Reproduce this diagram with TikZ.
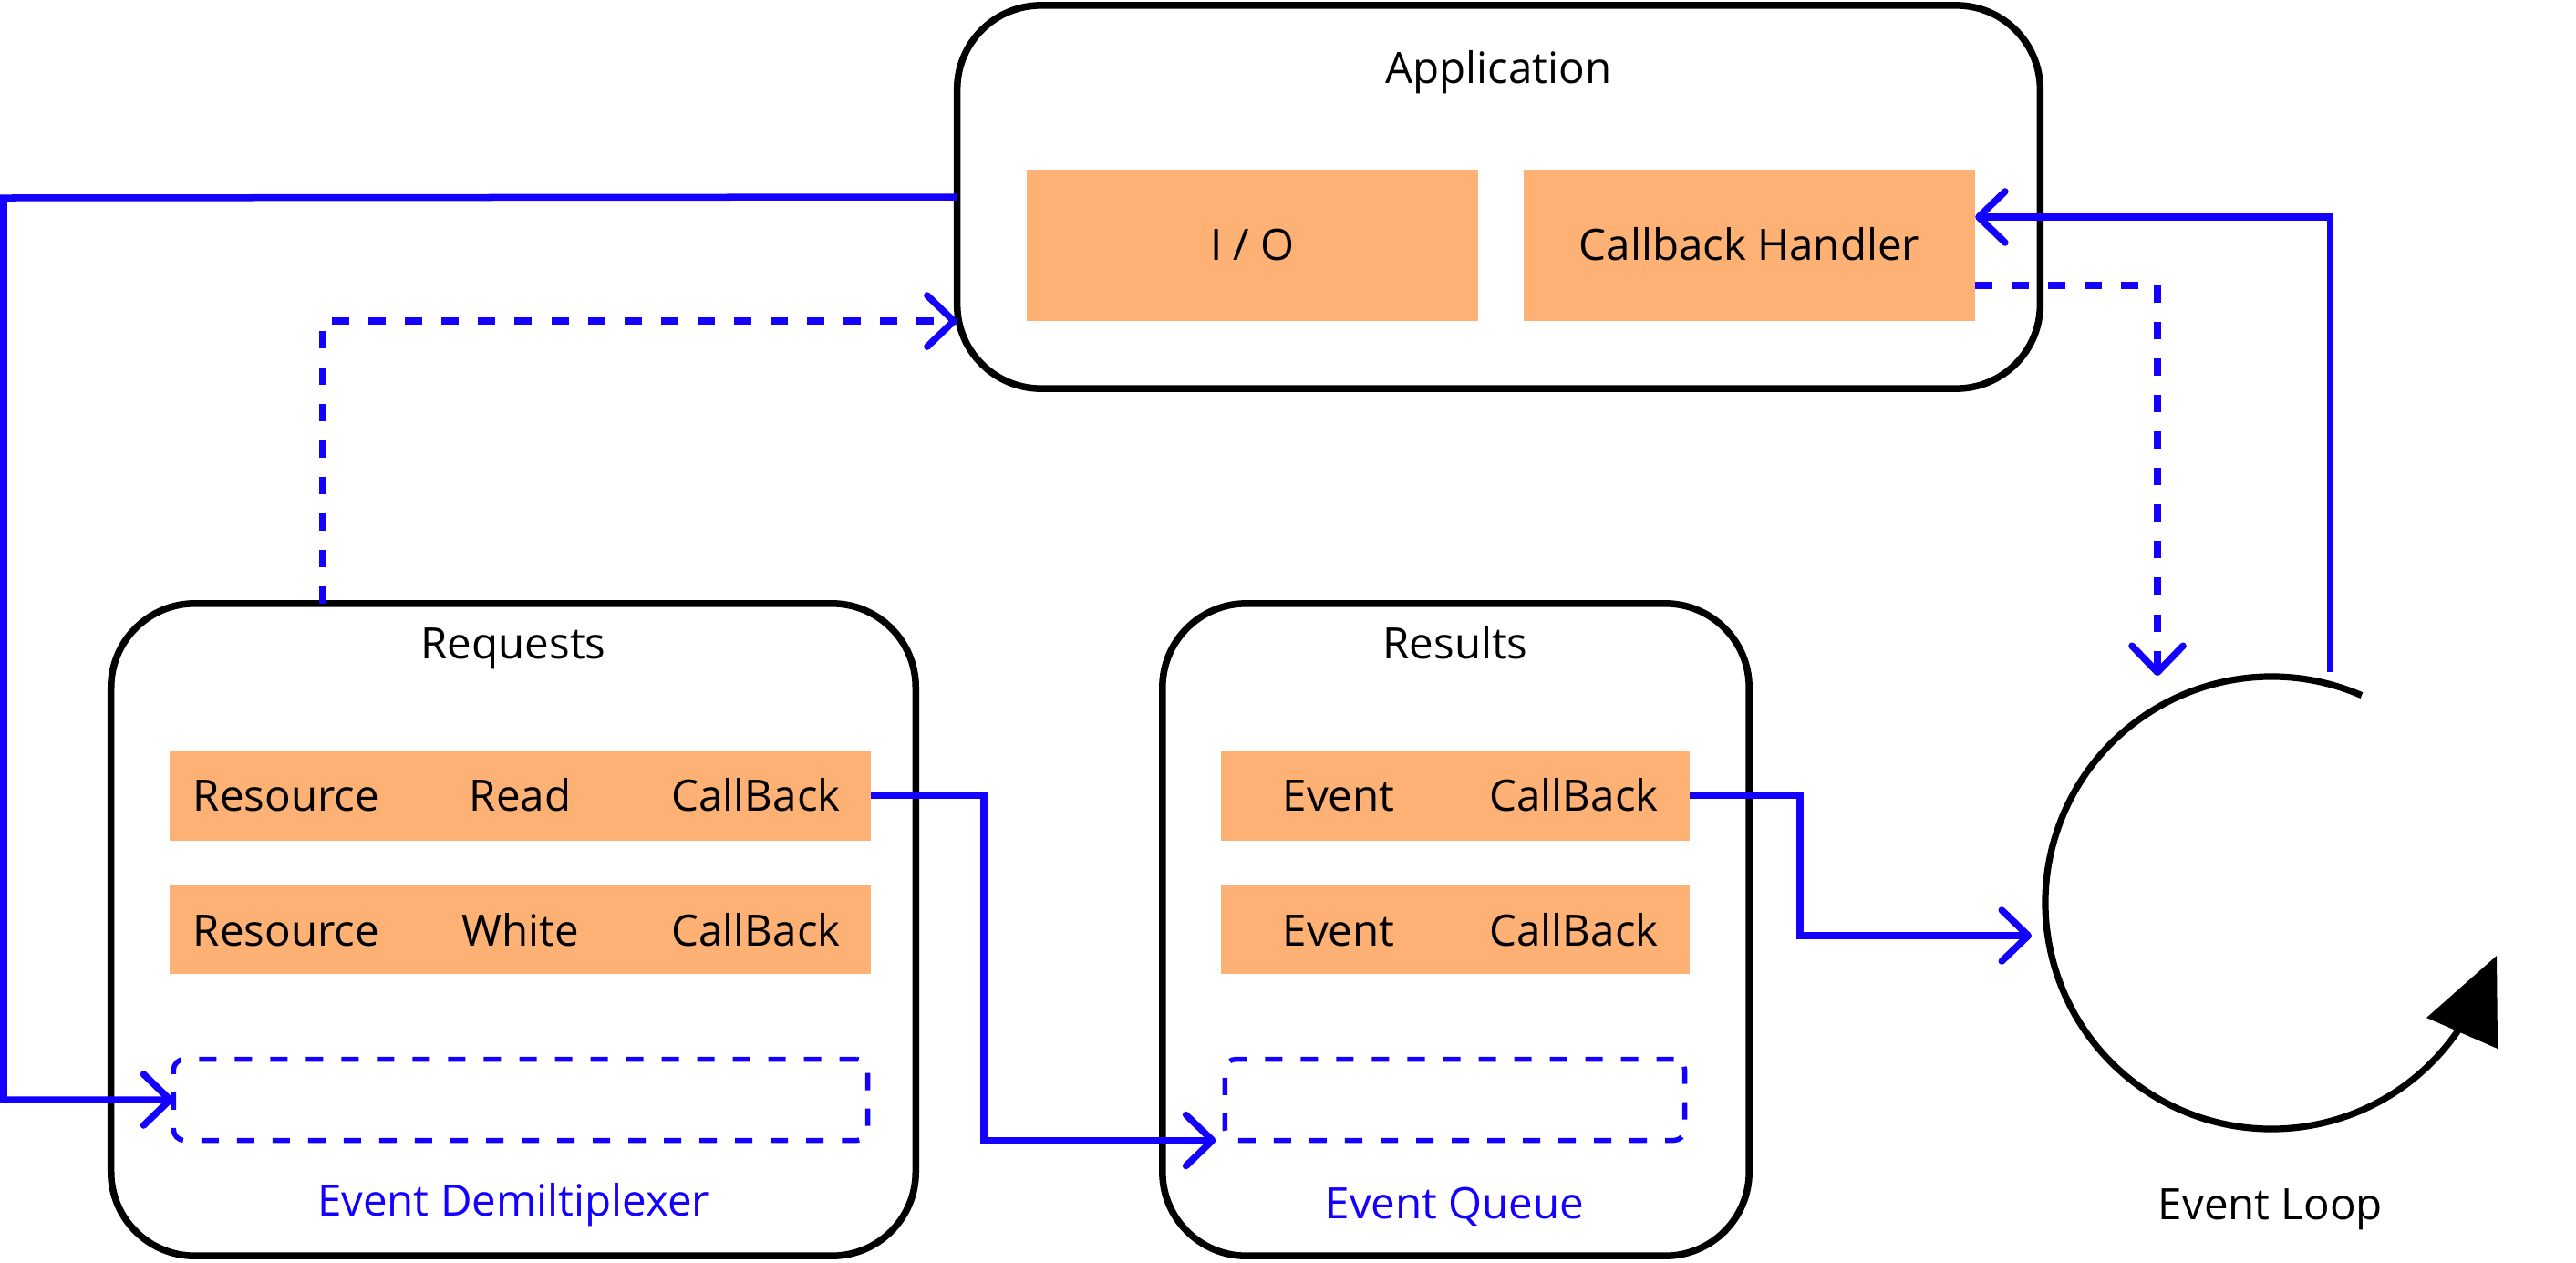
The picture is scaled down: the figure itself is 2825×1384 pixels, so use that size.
\documentclass[tikz,border=0pt]{standalone}
\usepackage{fontspec}
\setmainfont{Open Sans}
\usetikzlibrary{arrows.meta}
\definecolor{orng}{RGB}{253,177,116}
\definecolor{lblue}{RGB}{20,0,255}
\begin{document}
\begin{tikzpicture}[x=0.01cm,y=0.01cm,
  txt/.style={font=\fontsize{13.5}{16}\selectfont, anchor=base, inner sep=0pt},
  bigbox/.style={draw=black, line width=0.075cm, rounded corners=0.92cm, inner sep=0pt, outer sep=0pt},
  cell/.style={fill=orng, draw=none, inner sep=0pt, outer sep=0pt},
  slot/.style={draw=lblue, line width=0.055cm, dash pattern=on 0.19cm off 0.2cm, rounded corners=0.12cm, inner sep=0pt, outer sep=0pt},
  flow/.style={draw=lblue, line width=0.075cm, -{Straight Barb[length=0.29cm,width=0.56cm,round]}},
  flowd/.style={flow, dash pattern=on 0.19cm off 0.21cm},
]
\useasboundingbox (0,0) rectangle (2825,-1384);

% containers
\node[bigbox, minimum width=11.87cm, minimum height=4.2cm] (app) at (1643.5,-216) {};
\node[bigbox, minimum width=8.82cm, minimum height=7.15cm] (req) at (563,-1019.5) {};
\node[bigbox, minimum width=6.43cm, minimum height=7.15cm] (res) at (1596.5,-1019.5) {};

% application cells
\node[cell, minimum width=4.95cm, minimum height=1.66cm] (io) at (1373.5,-269) {};
\node[cell, minimum width=4.95cm, minimum height=1.66cm] (cbh) at (1918.5,-269) {};

% request rows
\node[cell, minimum width=7.69cm, minimum height=0.99cm] (rq1) at (570.5,-872.5) {};
\node[cell, minimum width=7.69cm, minimum height=0.98cm] (rq2) at (570.5,-1019) {};
\node[slot, minimum width=7.61cm, minimum height=0.89cm] (reqslot) at (571,-1206) {};

% result rows
\node[cell, minimum width=5.14cm, minimum height=0.99cm] (rs1) at (1596,-872.5) {};
\node[cell, minimum width=5.14cm, minimum height=0.98cm] (rs2) at (1596,-1019) {};
\node[slot, minimum width=5.04cm, minimum height=0.89cm] (resslot) at (1595.5,-1206) {};

% texts
\node[txt] (tapp) at (1643.5,-91) {Application};
\node[txt] (tio) at (1373.5,-285) {I / O};
\node[txt] (tcbh) at (1918.5,-285) {Callback Handler};
\node[txt] (treq) at (563,-722) {Requests};
\node[txt] (tres) at (1596,-722) {Results};
\node[txt] (r1a) at (314,-889) {Resource};
\node[txt] (r1b) at (570.5,-889) {Read};
\node[txt] (r1c) at (829,-889) {CallBack};
\node[txt] (r2a) at (314,-1037) {Resource};
\node[txt] (r2b) at (571,-1037) {White};
\node[txt] (r2c) at (829,-1037) {CallBack};
\node[txt] (s1a) at (1468,-889) {Event};
\node[txt] (s1b) at (1726,-889) {CallBack};
\node[txt] (s2a) at (1468,-1037) {Event};
\node[txt] (s2b) at (1726,-1037) {CallBack};
\node[txt, text=lblue] (tdem) at (563,-1333) {Event Demiltiplexer};
\node[txt, text=lblue] (tque) at (1595.5,-1336) {Event Queue};
\node[txt] (tloop) at (2490,-1337) {Event Loop};

% event loop
\coordinate (loopc) at (2491,-990);
\coordinate (looptop) at (2555.5,-737);
\coordinate (loopdash) at (2366,-741);
\coordinate (loopin) at (2228,-1026);
\draw[line width=0.072cm] (loopc) ++(66.5:248) arc[start angle=66.5, end angle=326, radius=248];
\fill (2738,-1048) -- (2661,-1116) -- (2739,-1150) -- cycle;

% connectors
\draw[flow] (app.west) -- (4,-217) |- (reqslot.west);
\draw[flowd] ([xshift=-2.09cm]req.north) |- ([yshift=-1.36cm]app.west);
\draw[flow] (looptop) |- ([yshift=0.31cm]cbh.east);
\draw[flowd] ([yshift=-0.44cm]cbh.east) -| (loopdash);
\draw[flow] (rq1.east) -- ++(124,0) |- ([xshift=-0.1cm]resslot.south west);
\draw[flow] (rs1.east) -- ++(121,0) |- (loopin);
\end{tikzpicture}
\end{document}
